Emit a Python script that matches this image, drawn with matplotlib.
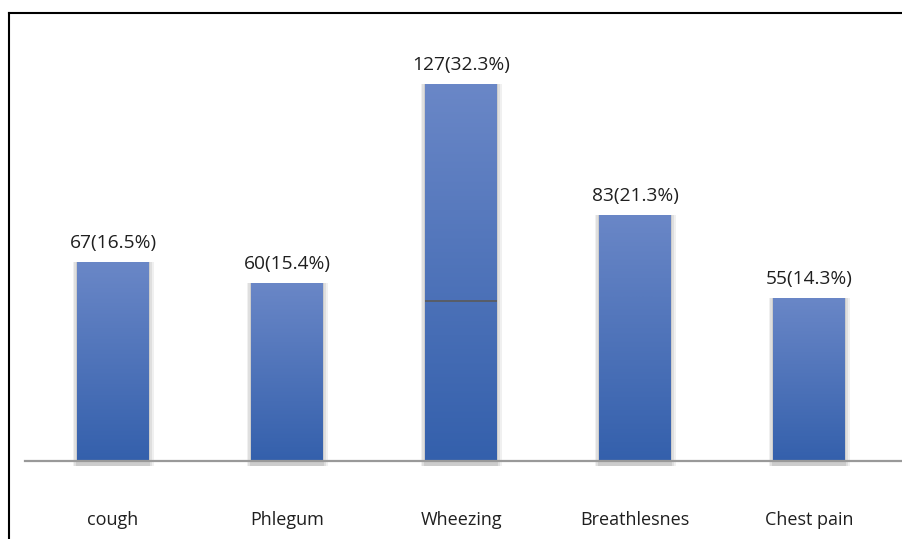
import numpy as np
import matplotlib
matplotlib.use('Agg')
from matplotlib import pyplot as plt
from matplotlib.patches import Rectangle
from matplotlib.lines import Line2D

# data
symptoms = ['cough', 'Phlegum', 'Wheezing', 'Breathlesnes', 'Chest pain']
counts = [67, 60, 127, 83, 55]
labels = ['67(16.5%)', '60(15.4%)', '127(32.3%)', '83(21.3%)', '55(14.3%)']
# a segment edge visible inside the Wheezing bar
split_at = {'Wheezing': 54}

plt.rcParams['font.family'] = ['Open Sans', 'DejaVu Sans']

top_rgb = np.array([106, 135, 199]) / 255.
bot_rgb = np.array([52, 96, 172]) / 255.
text_color = '#1f1f1f'
width = 0.41

fig = plt.figure(figsize=(9.02, 5.39), dpi=100)
W, H = 902., 539.
ax = fig.add_axes([25 / W, (H - 461) / H, 877 / W, 448 / H])

x = np.arange(len(symptoms))
grad = np.linspace(0, 1, 256)[:, None]
cmap = matplotlib.colors.LinearSegmentedColormap.from_list('bar', [bot_rgb, top_rgb])

for xi, val, lab, name in zip(x, counts, labels, symptoms):
    # soft grey shadow around the bar
    for k, a in zip((0.028, 0.018, 0.009), (0.12, 0.16, 0.22)):
        ax.add_patch(Rectangle((xi - width / 2 - k, -1.6), width + 2 * k, val + 1.6,
                               color='#8a8a8a', alpha=a, lw=0, zorder=1, clip_on=False))
    bar = Rectangle((xi - width / 2, 0), width, val, lw=0, facecolor='none', zorder=2)
    ax.add_patch(bar)
    im = ax.imshow(grad, cmap=cmap, aspect='auto', origin='lower',
                   extent=(xi - width / 2, xi + width / 2, 0, val), zorder=2)
    im.set_clip_path(bar)
    if name in split_at:
        ax.hlines(split_at[name], xi - width / 2, xi + width / 2, color='#5a5a5a', lw=1.2, zorder=3)
    ax.annotate(lab, (xi, val), xytext=(0, 7), textcoords='offset points',
                ha='center', va='bottom', fontsize=13.8, color=text_color)

ax.set_xlim(-0.506, 4.534)
ax.set_ylim(0, 151)
ax.set_xticks(x)
ax.set_xticklabels(symptoms, fontsize=13, color=text_color)
ax.tick_params(axis='x', length=0, pad=36)
ax.set_yticks([])
for side in ('top', 'right', 'left'):
    ax.spines[side].set_visible(False)
ax.spines['bottom'].set_color('#999999')
ax.spines['bottom'].set_linewidth(1.6)
ax.spines['bottom'].set_zorder(4)

# frame of the figure (top and left only)
fig.add_artist(Line2D([9 / W, 1], [1 - 13 / H, 1 - 13 / H], color='black', lw=1.5))
fig.add_artist(Line2D([9 / W, 9 / W], [0, 1 - 13 / H], color='black', lw=1.5))

fig.savefig('out.png', dpi=100)
